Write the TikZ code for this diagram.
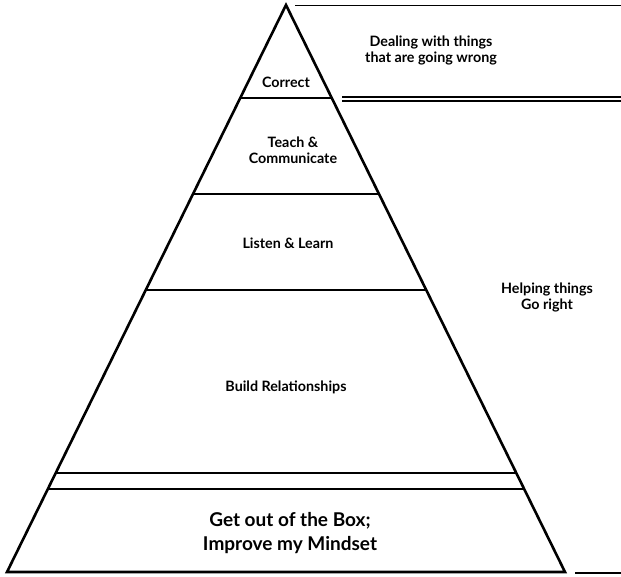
\documentclass[tikz,border=0pt]{standalone}
\usepackage{fontspec}
\setmainfont{Lato}
\usetikzlibrary{calc}

\tikzset{
  layer/.style={font=\bfseries\fontsize{14.3}{16}\selectfont, align=center},
  baselayer/.style={font=\bfseries\fontsize{19}{24}\selectfont, align=center},
  side/.style={font=\bfseries\fontsize{14.3}{16}\selectfont, align=center}
}

\begin{document}
\begin{tikzpicture}[x=1pt,y=-1pt]
\useasboundingbox (0,0) rectangle (621,576);
\coordinate[] (A) at (286,5);
\coordinate[] (B) at (7,572);
\coordinate[] (C) at (565,572);
\coordinate[] (D) at (240.2,98);
\coordinate[] (E) at (331.8,98);
\coordinate[] (F) at (193,194);
\coordinate[] (G) at (379,194);
\coordinate[] (H) at (145.8,290);
\coordinate[] (I) at (426.2,290);
\coordinate[] (J) at (55.7,473);
\coordinate[] (K) at (516.3,473);
\coordinate[] (L) at (47.8,489);
\coordinate[] (M) at (524.2,489);

\draw [line width=2.6pt] (A) -- (B) -- (C) -- cycle;
\draw [line width=2.6pt] (D) -- (E);
\draw [line width=2.6pt] (F) -- (G);
\draw [line width=2.6pt] (H) -- (I);
\draw [line width=2.6pt] (J) -- (K);
\draw [line width=2.6pt] (L) -- (M);
% brackets on the right
\draw [line width=1.6pt] (295,5.5) -- (621,5.5);
\draw [line width=1.6pt] (342,96.7) -- (621,96.7);
\draw [line width=1.6pt] (342,100.7) -- (621,100.7);
\draw [line width=1.2pt] (575,573) -- (621,573);

\node[layer] (correct) at (286,82) {Correct};
\node[layer] (teach) at (293,150) {Teach \&\\Communicate};
\node[layer] (listen) at (288,243) {Listen \& Learn};
\node[layer] (build) at (286,387) {Build Relationships};
\node[baselayer] (box) at (290,533) {Get out of the Box;\\Improve my Mindset};
\node[side] (wrong) at (431,50) {Dealing with things\\that are going wrong};
\node[side] (right) at (547,297) {Helping things\\Go right};
\end{tikzpicture}
\end{document}
